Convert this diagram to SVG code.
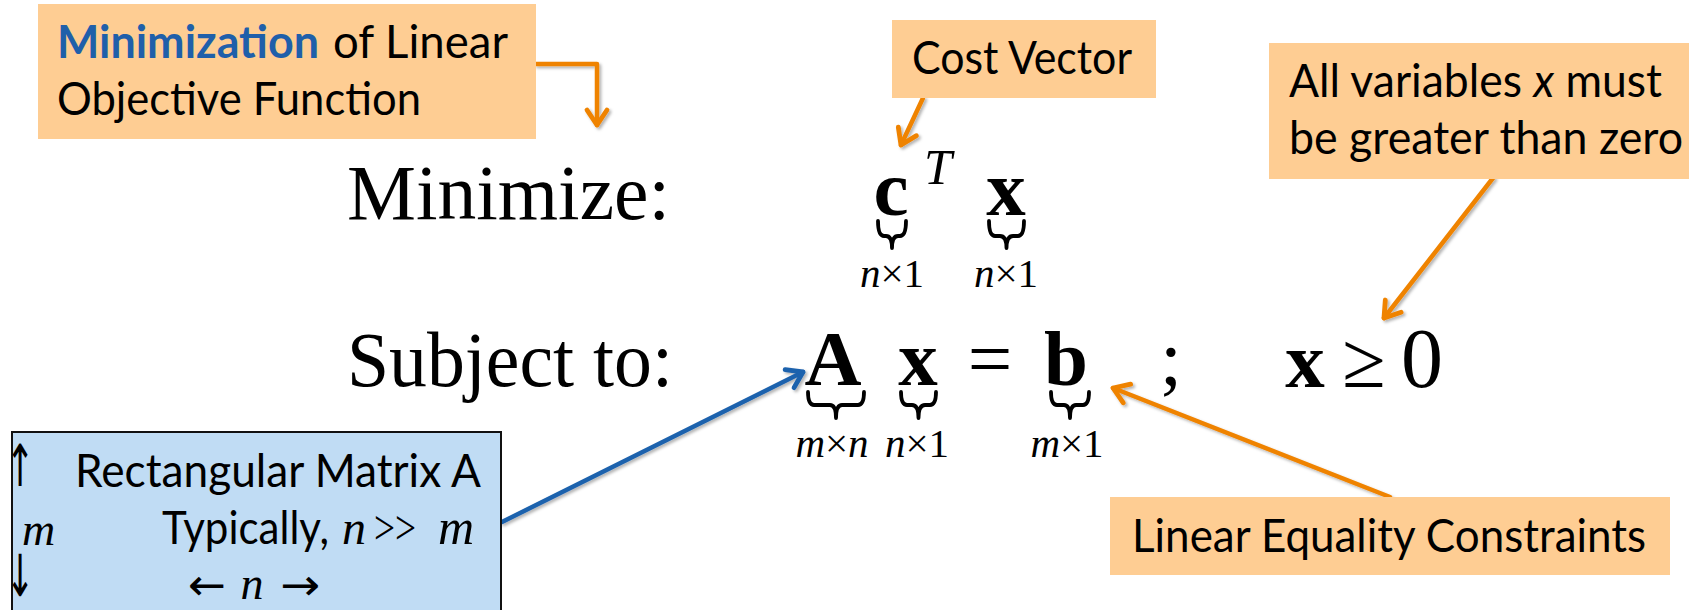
<svg xmlns="http://www.w3.org/2000/svg" width="1689" height="610" viewBox="0 0 1689 610">
<style>
.callout{fill:#FECD93}
.cal{font-family:Lato,"Open Sans","Noto Sans",sans-serif;font-size:46px;fill:#000}
.math{font-family:"Liberation Serif","Times New Roman",serif;fill:#000}
.arr{font-family:"DejaVu Sans",sans-serif;fill:#000}
.big{font-size:79px}
.bold{font-weight:bold}
.it{font-style:italic}
.lbl{font-size:41px}
.brace{fill:none;stroke:#000;stroke-width:3.8;stroke-linecap:round;stroke-linejoin:round}
.conO{fill:none;stroke:#EF8300;stroke-width:4.5;stroke-linecap:round;stroke-linejoin:round}
.conB{fill:none;stroke:#1E62AD;stroke-width:4.5;stroke-linecap:round}
</style>
<defs>
<filter id="sh" x="-20%" y="-20%" width="140%" height="140%">
<feDropShadow dx="2" dy="2" stdDeviation="1.5" flood-color="#000" flood-opacity="0.3"/>
</filter>
<marker id="arrO" markerUnits="userSpaceOnUse" viewBox="-20 -12 24 24" refX="0" refY="0" markerWidth="24" markerHeight="24" orient="auto" overflow="visible">
<path d="M-15,-10 L0,0 L-15,10" fill="none" stroke="#EF8300" stroke-width="4.8" stroke-linecap="round" stroke-linejoin="round"/>
</marker>
<marker id="arrB" markerUnits="userSpaceOnUse" viewBox="-20 -12 24 24" refX="0" refY="0" markerWidth="24" markerHeight="24" orient="auto" overflow="visible">
<path d="M-15,-10 L0,0 L-15,10" fill="none" stroke="#1E62AD" stroke-width="4.8" stroke-linecap="round" stroke-linejoin="round"/>
</marker>
</defs>
<rect width="1689" height="610" fill="#fff"/>

<g id="connectors" filter="url(#sh)">
<path class="conO" d="M536,64 L597,64 L597,125" marker-end="url(#arrO)"/>
<path class="conO" d="M923,98 L901,145" marker-end="url(#arrO)"/>
<path class="conO" d="M1493,178 L1384,318" marker-end="url(#arrO)"/>
<path class="conO" d="M1390,497 L1113,388" marker-end="url(#arrO)"/>
<path class="conB" d="M502,522 L803,372" marker-end="url(#arrB)"/>
</g>

<g id="objective-note">
<rect class="callout" x="38" y="4" width="498" height="135"/>
<text class="cal bold" x="57" y="58" style="fill:#1F5FAA" textLength="262" lengthAdjust="spacingAndGlyphs">Minimization</text>
<text class="cal" x="333" y="58" textLength="175" lengthAdjust="spacingAndGlyphs">of Linear</text>
<text class="cal" x="57" y="115" textLength="364" lengthAdjust="spacingAndGlyphs">Objective Function</text>
</g>

<g id="cost-note">
<rect class="callout" x="892" y="20" width="264" height="78"/>
<text class="cal" x="912" y="74" textLength="220" lengthAdjust="spacingAndGlyphs">Cost Vector</text>
</g>

<g id="nonneg-note">
<rect class="callout" x="1269" y="43" width="420" height="136"/>
<text class="cal" x="1289" y="97" textLength="373" lengthAdjust="spacingAndGlyphs">All variables <tspan font-style="italic">x</tspan> must</text>
<text class="cal" x="1289" y="154" textLength="394" lengthAdjust="spacingAndGlyphs">be greater than zero</text>
</g>

<g id="equality-note">
<rect class="callout" x="1110" y="497" width="560" height="78"/>
<text class="cal" x="1132" y="552" textLength="514" lengthAdjust="spacingAndGlyphs">Linear Equality Constraints</text>
</g>

<g id="matrix-note">
<rect x="12" y="432" width="489" height="190" fill="#C0DCF4" stroke="#111" stroke-width="2"/>
<text class="arr" transform="translate(20,486) scale(0.6,1)" font-size="58" text-anchor="middle">↑</text>
<text class="cal" x="75" y="487" textLength="406" lengthAdjust="spacingAndGlyphs">Rectangular Matrix A</text>
<text class="math it" x="22" y="545" font-size="46">m</text>
<text class="cal" x="162" y="544" textLength="167" lengthAdjust="spacingAndGlyphs">Typically,</text>
<text class="math it" x="342" y="544" font-size="48">n</text>
<text class="math" x="374" y="544" font-size="48" textLength="42" lengthAdjust="spacingAndGlyphs">&gt;&gt;</text>
<text class="math it" x="456" y="544" font-size="50" text-anchor="middle">m</text>
<text class="arr" transform="translate(20,596) scale(0.6,1)" font-size="58" text-anchor="middle">↓</text>
<text class="arr" x="188" y="600" font-size="44" textLength="38" lengthAdjust="spacingAndGlyphs">←</text>
<text class="math it" x="252" y="599" font-size="46" text-anchor="middle">n</text>
<text class="arr" x="280" y="600" font-size="44" textLength="40" lengthAdjust="spacingAndGlyphs">→</text>
</g>

<g id="objective">
<text class="math big" x="347" y="219" textLength="323" lengthAdjust="spacingAndGlyphs">Minimize:</text>
<text class="math big bold" x="891" y="215" text-anchor="middle">c</text>
<text class="math it" x="938" y="184" font-size="50" text-anchor="middle">T</text>
<text class="math big bold" x="1006" y="215" text-anchor="middle">x</text>
<path class="brace" d="M878,221 Q878,236 884,236 L886,236 Q892,236 892,248 Q892,236 898,236 L900,236 Q906,236 906,221"/>
<path class="brace" d="M989,221 Q989,236 995,236 L1000,236 Q1006.5,236 1006.5,248 Q1006.5,236 1013,236 L1018,236 Q1024,236 1024,221"/>
<text class="math lbl" x="892" y="287" text-anchor="middle"><tspan font-style="italic">n</tspan>×1</text>
<text class="math lbl" x="1006" y="287" text-anchor="middle"><tspan font-style="italic">n</tspan>×1</text>
</g>

<g id="constraints">
<text class="math big" x="347" y="386" textLength="326" lengthAdjust="spacingAndGlyphs">Subject to:</text>
<text class="math big bold" x="833" y="385" text-anchor="middle">A</text>
<text class="math big bold" x="918" y="385" text-anchor="middle">x</text>
<text class="math big" x="990" y="385" text-anchor="middle">=</text>
<text class="math big bold" x="1066" y="385" text-anchor="middle">b</text>
<text class="math big" x="1171" y="385" text-anchor="middle">;</text>
<path class="brace" d="M808,392 Q808,405 814,405 L830,405 Q836,405 836,418 Q836,405 842,405 L858,405 Q864,405 864,392"/>
<path class="brace" d="M901,392 Q901,405 907,405 L912,405 Q918.5,405 918.5,418 Q918.5,405 925,405 L930,405 Q936,405 936,392"/>
<path class="brace" d="M1051,392 Q1051,405 1057,405 L1064,405 Q1070,405 1070,418 Q1070,405 1076,405 L1083,405 Q1089,405 1089,392"/>
<text class="math lbl" x="832" y="457" text-anchor="middle"><tspan font-style="italic">m</tspan>×<tspan font-style="italic">n</tspan></text>
<text class="math lbl" x="917" y="457" text-anchor="middle"><tspan font-style="italic">n</tspan>×1</text>
<text class="math lbl" x="1067" y="457" text-anchor="middle"><tspan font-style="italic">m</tspan>×1</text>
</g>

<g id="nonnegativity">
<text class="math big bold" x="1305" y="387" text-anchor="middle">x</text>
<text class="math big" x="1364" y="387" text-anchor="middle">≥</text>
<text class="math" x="1422" y="387" font-size="84" text-anchor="middle">0</text>
</g>
</svg>
